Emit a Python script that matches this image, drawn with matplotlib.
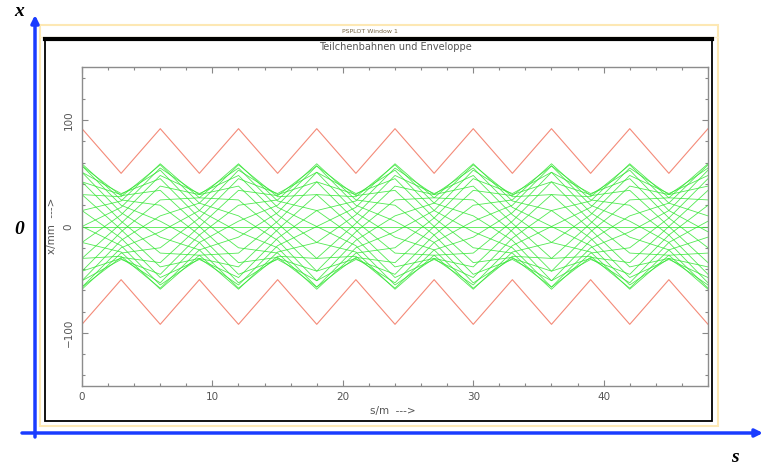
import matplotlib
matplotlib.use('Agg')
import matplotlib.pyplot as plt
from matplotlib.patches import Rectangle
from matplotlib.ticker import MultipleLocator

# Positionen der Quadrupole (s/m)
s_m = [0, 3, 6, 9, 12, 15, 18, 21, 24, 27, 30, 33, 36, 39, 42, 45, 48]

# Enveloppe (rot), x/mm
env_oben = [92, 50, 92, 50, 92, 50, 92, 50, 92, 50, 92, 50, 92, 50, 92, 50, 92]
env_unten = [-92, -50, -92, -50, -92, -50, -92, -50, -92, -50, -92, -50, -92, -50, -92, -50, -92]

# Teilchenbahnen (gruen), x/mm an den Quadrupolen
bahnen = [
    [59, 25, 20, -8, -45, -31, -51, -13, 10, 22, 58, 28, 30, -3, -38, -30, -55],
    [57, 20, 5, -15, -53, -30, -42, -5, 25, 27, 59, 24, 15, -11, -48, -31, -48],
    [51, 13, -10, -22, -58, -28, -30, 3, 38, 30, 55, 18, 0, -18, -55, -30, -38],
    [42, 5, -25, -27, -59, -24, -15, 11, 48, 31, 48, 11, -15, -24, -59, -27, -25],
    [30, -3, -38, -30, -55, -18, 0, 18, 55, 30, 38, 3, -30, -28, -58, -22, -10],
    [15, -11, -48, -31, -48, -11, 15, 24, 59, 27, 25, -5, -42, -30, -53, -15, 5],
    [0, -18, -55, -30, -38, -3, 30, 28, 58, 22, 10, -13, -51, -31, -45, -8, 20],
    [-15, -24, -59, -27, -25, 5, 42, 30, 53, 15, -5, -20, -57, -29, -34, 0, 34],
    [-30, -28, -58, -22, -10, 13, 51, 31, 45, 8, -20, -25, -59, -25, -20, 8, 45],
    [-42, -30, -53, -15, 5, 20, 57, 29, 34, 0, -34, -29, -57, -20, -5, 15, 53],
    [-51, -31, -45, -8, 20, 25, 59, 25, 20, -8, -45, -31, -51, -13, 10, 22, 58],
    [-57, -29, -34, 0, 34, 29, 57, 20, 5, -15, -53, -30, -42, -5, 25, 27, 59],
    [-59, -25, -20, 8, 45, 31, 51, 13, -10, -22, -58, -28, -30, 3, 38, 30, 55],
    [-57, -20, -5, 15, 53, 30, 42, 5, -25, -27, -59, -24, -15, 11, 48, 31, 48],
    [-51, -13, 10, 22, 58, 28, 30, -3, -38, -30, -55, -18, 0, 18, 55, 30, 38],
    [-42, -5, 25, 27, 59, 24, 15, -11, -48, -31, -48, -11, 15, 24, 59, 27, 25],
    [-30, 3, 38, 30, 55, 18, 0, -18, -55, -30, -38, -3, 30, 28, 58, 22, 10],
    [-15, 11, 48, 31, 48, 11, -15, -24, -59, -27, -25, 5, 42, 30, 53, 15, -5],
    [0, 18, 55, 30, 38, 3, -30, -28, -58, -22, -10, 13, 51, 31, 45, 8, -20],
    [15, 24, 59, 27, 25, -5, -42, -30, -53, -15, 5, 20, 57, 29, 34, 0, -34],
    [30, 28, 58, 22, 10, -13, -51, -31, -45, -8, 20, 25, 59, 25, 20, -8, -45],
    [42, 30, 53, 15, -5, -20, -57, -29, -34, 0, 34, 29, 57, 20, 5, -15, -53],
    [51, 31, 45, 8, -20, -25, -59, -25, -20, 8, 45, 31, 51, 13, -10, -22, -58],
    [57, 29, 34, 0, -34, -29, -57, -20, -5, 15, 53, 30, 42, 5, -25, -27, -59],
    [0, 0, 0, 0, 0, 0, 0, 0, 0, 0, 0, 0, 0, 0, 0, 0, 0],
]

fig = plt.figure(figsize=(7.64, 4.67), dpi=100)

# Hintergrund-Deko in Pixelkoordinaten
deko = fig.add_axes([0, 0, 1, 1])
deko.set_xlim(0, 764)
deko.set_ylim(467, 0)
deko.axis('off')

# Fensterrahmen
deko.add_patch(Rectangle((40, 25), 678, 401, fill=False, ec='#fde8b4', lw=1.5))
deko.plot([40, 718], [36.5, 36.5], color='#fdf0cc', lw=1)
deko.add_patch(Rectangle((45, 38), 667, 383, fill=False, ec='black', lw=1.3))
deko.plot([45, 712], [38.5, 38.5], color='black', lw=3)
deko.text(370, 31.5, 'PSPLOT Window 1', fontsize=4.5, color='#776644',
          ha='center', va='center')

# blaue Achsenpfeile
pfeil = dict(arrowstyle='-|>', color='#1a3cff', lw=2.5,
             mutation_scale=11, shrinkA=0, shrinkB=0)
deko.annotate('', xy=(35, 15), xytext=(35, 437), arrowprops=pfeil,
              annotation_clip=False)
deko.annotate('', xy=(763, 433), xytext=(22, 433), arrowprops=pfeil,
              annotation_clip=False)
fett = dict(family='Liberation Serif', style='italic', weight='bold',
            fontsize=14, color='black', ha='center', va='center')
deko.text(19, 12, 'x', **fett)
deko.text(19, 229, '0', **fett)
deko.text(735, 458, 's', **fett)

# Titel und Achsenbeschriftung
grau = '#555555'
deko.text(395, 46.5, 'Teilchenbahnen und Enveloppe', fontsize=7, color=grau,
          ha='center', va='center')
deko.text(393, 411, 's/m  --->', fontsize=7.5, color=grau, ha='center', va='center')
deko.text(52, 226, 'x/mm  --->', fontsize=7.5, color=grau, ha='center', va='center',
          rotation=90)

# Plot
ax = fig.add_axes([82 / 764, 1 - 386 / 467, (708 - 82) / 764, (386 - 67) / 467])
for b in bahnen:
    ax.plot(s_m, b, color='#33e633', lw=0.6, alpha=0.85)
ax.plot(s_m, env_oben, color='#f48a78', lw=0.8)
ax.plot(s_m, env_unten, color='#f48a78', lw=0.8)

ax.set_xlim(0, 48)
ax.set_ylim(-150, 150)
ax.xaxis.set_major_locator(MultipleLocator(10))
ax.xaxis.set_minor_locator(MultipleLocator(2))
ax.yaxis.set_major_locator(MultipleLocator(100))
ax.yaxis.set_minor_locator(MultipleLocator(20))
ax.tick_params(which='both', direction='in', top=True, right=True,
               color='#888888', labelcolor=grau, labelsize=7.5, width=0.8)
ax.tick_params(which='major', length=4)
ax.tick_params(which='minor', length=2.5)
ax.tick_params(axis='x', pad=4)
ax.tick_params(axis='y', pad=6)
for lbl in ax.get_yticklabels():
    lbl.set_rotation(90)
    lbl.set_va('center')
for sp in ax.spines.values():
    sp.set_color('#8c8c8c')
    sp.set_linewidth(1)

fig.savefig('out.png', dpi=100)
